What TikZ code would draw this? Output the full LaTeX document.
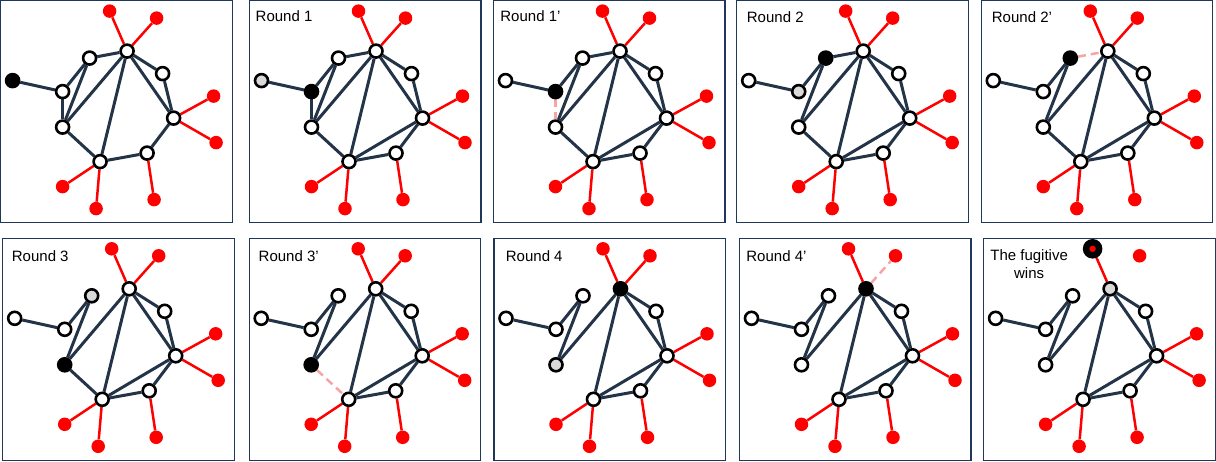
\documentclass[tikz,border=0pt]{standalone}
\usepackage{fontspec}
\setmainfont{Liberation Sans}
\pgfdeclarelayer{bg}
\pgfsetlayers{bg,main}
\definecolor{navyedge}{RGB}{36,52,72}
\definecolor{framec}{RGB}{31,56,90}
\definecolor{pinkd}{RGB}{246,164,164}
\definecolor{lgray}{RGB}{217,217,217}
\definecolor{rd}{RGB}{255,0,0}
\tikzset{
 wn/.style={circle, draw=black, line width=2.6pt, fill=white, minimum size=13pt, inner sep=0pt},
 bn/.style={wn, fill=black},
 gn/.style={wn, fill=lgray},
 rn/.style={circle, fill=rd, minimum size=13.5pt, inner sep=0pt},
 fn/.style={circle, draw=black, line width=6.5pt, fill=rd, minimum size=13pt, inner sep=0pt},
 ne/.style={draw=navyedge, line width=3pt},
 re/.style={draw=rd, line width=2.5pt},
 de/.style={draw=pinkd, line width=2.5pt, dash pattern=on 8pt off 5pt},
 frame/.style={draw=framec, line width=1.2pt},
 lbl/.style={font=\fontsize{15}{18}\selectfont, inner sep=0pt, anchor=base west},
 lblc/.style={font=\fontsize{15}{18}\selectfont, inner sep=0pt, anchor=base},
}
% nodes of one panel: #1 prefix, #2 L, #3 A, #4 B, #5 F, #6 T, #7 T1 styles
\newcommand{\gnodes}[7]{%
  \node[#2] (#1L) at (12,80) {};
  \node[#3] (#1A) at (62,91) {};
  \node[#4] (#1B) at (89,57.5) {};
  \node[#6] (#1T) at (126.5,50.5) {};
  \node[wn] (#1C) at (162,73) {};
  \node[wn] (#1R) at (173,117.5) {};
  \node[wn] (#1D) at (146.5,152.5) {};
  \node[wn] (#1E) at (99.5,161) {};
  \node[#5] (#1F) at (62,126.5) {};
  \node[#7] (#1T1) at (109,10.5) {};
  \node[rn] (#1T2) at (156,17.5) {};
  \node[rn] (#1R1) at (213,95.5) {};
  \node[rn] (#1R2) at (215.5,142) {};
  \node[rn] (#1E1) at (62,186) {};
  \node[rn] (#1E2) at (95.5,208) {};
  \node[rn] (#1D1) at (153.5,199) {};
}
\newcommand{\nedges}[2]{\begin{pgfonlayer}{bg}\foreach \a/\b in {#2} \draw[ne] (#1\a) -- (#1\b);\end{pgfonlayer}}
\newcommand{\redges}[2]{\begin{pgfonlayer}{bg}\foreach \a/\b in {#2} \draw[re] (#1\a) -- (#1\b);\end{pgfonlayer}}
\newcommand{\dedge}[3]{\begin{pgfonlayer}{bg}\draw[de] (#1#2) -- (#1#3);\end{pgfonlayer}}
\newcommand{\pframe}{\draw[frame] (0,0) rectangle (231.5,222);}
\begin{document}
\begin{tikzpicture}[x=1pt,y=-1pt]
\useasboundingbox (0,0) rectangle (1216,461);
% Panel 1
\begin{scope}[shift={(0.6,0.6)}]
\pframe
\gnodes{p1}{bn}{wn}{wn}{wn}{wn}{rn}
\nedges{p1}{L/A,A/B,B/F,F/T,T/C,T/R,C/R,T/E,E/D,D/R,A/F,B/T,F/E}
\redges{p1}{T/T1,T/T2,R/R1,R/R2,E/E1,E/E2,D/D1}
\end{scope}
% Panel 2
\begin{scope}[shift={(249.5,0.6)}]
\pframe
\node[lbl] (l2) at (6,21.2) {Round 1};
\gnodes{p2}{gn}{bn}{wn}{wn}{wn}{rn}
\nedges{p2}{L/A,A/B,B/F,F/T,T/C,T/R,C/R,T/E,E/D,D/R,A/F,B/T,F/E,E/R}
\redges{p2}{T/T1,T/T2,R/R1,R/R2,E/E1,E/E2,D/D1}
\end{scope}
% Panel 3
\begin{scope}[shift={(493.5,0.6)}]
\pframe
\node[lbl] (l3) at (6.7,21.2) {Round 1’};
\gnodes{p3}{wn}{bn}{wn}{wn}{wn}{rn}
\nedges{p3}{L/A,A/B,B/F,F/T,T/C,T/R,C/R,T/E,E/D,D/R,B/T,F/E,E/R}
\dedge{p3}{A}{F}
\redges{p3}{T/T1,T/T2,R/R1,R/R2,E/E1,E/E2,D/D1}
\end{scope}
% Panel 4
\begin{scope}[shift={(736.7,0.6)}]
\pframe
\node[lbl] (l4) at (10,21.6) {Round 2};
\gnodes{p4}{wn}{gn}{bn}{wn}{wn}{rn}
\nedges{p4}{L/A,A/B,B/F,F/T,T/C,T/R,C/R,T/E,E/D,D/R,B/T,F/E,E/R}
\redges{p4}{T/T1,T/T2,R/R1,R/R2,E/E1,E/E2,D/D1}
\end{scope}
% Panel 5
\begin{scope}[shift={(981.3,0.6)}]
\pframe
\node[lbl] (l5) at (10.4,21.6) {Round 2’};
\gnodes{p5}{wn}{wn}{bn}{wn}{wn}{rn}
\nedges{p5}{L/A,A/B,B/F,F/T,T/C,T/R,C/R,T/E,E/D,D/R,F/E,E/R}
\dedge{p5}{B}{T}
\redges{p5}{T/T1,T/T2,R/R1,R/R2,E/E1,E/E2,D/D1}
\end{scope}
% Panel 6
\begin{scope}[shift={(2.7,238.3)}]
\pframe
\node[lbl] (l6) at (9,23.2) {Round 3};
\gnodes{p6}{wn}{wn}{gn}{bn}{wn}{rn}
\nedges{p6}{L/A,A/B,B/F,F/T,T/C,T/R,C/R,T/E,E/D,D/R,F/E,E/R}
\redges{p6}{T/T1,T/T2,R/R1,R/R2,E/E1,E/E2,D/D1}
\end{scope}
% Panel 7
\begin{scope}[shift={(249.2,238.3)}]
\pframe
\node[lbl] (l7) at (9.3,22.7) {Round 3’};
\gnodes{p7}{wn}{wn}{wn}{bn}{wn}{rn}
\nedges{p7}{L/A,A/B,B/F,F/T,T/C,T/R,C/R,T/E,E/D,D/R,E/R}
\dedge{p7}{F}{E}
\redges{p7}{T/T1,T/T2,R/R1,R/R2,E/E1,E/E2,D/D1}
\end{scope}
% Panel 8
\begin{scope}[shift={(494,238.3)}]
\pframe
\node[lbl] (l8) at (11.7,22.7) {Round 4};
\gnodes{p8}{wn}{wn}{wn}{gn}{bn}{rn}
\nedges{p8}{L/A,A/B,B/F,F/T,T/C,T/R,C/R,T/E,E/D,D/R,E/R}
\redges{p8}{T/T1,T/T2,R/R1,R/R2,E/E1,E/E2,D/D1}
\end{scope}
% Panel 9
\begin{scope}[shift={(739.5,238.3)}]
\pframe
\node[lbl] (l9) at (6.7,22.7) {Round 4’};
\gnodes{p9}{wn}{wn}{wn}{wn}{bn}{rn}
\nedges{p9}{L/A,A/B,B/F,F/T,T/C,T/R,C/R,T/E,E/D,D/R,E/R}
\dedge{p9}{T}{T2}
\redges{p9}{T/T1,R/R1,R/R2,E/E1,E/E2,D/D1}
\end{scope}
% Panel 10
\begin{scope}[shift={(983.6,238.3)}]
\pframe
\node[lblc] (l10a) at (45.5,21.7) {The fugitive};
\node[lblc] (l10b) at (45.5,40) {wins};
\gnodes{p10}{wn}{wn}{wn}{wn}{gn}{fn}
\nedges{p10}{L/A,A/B,B/F,F/T,T/C,T/R,C/R,T/E,E/D,D/R,E/R}
\redges{p10}{T/T1,R/R1,R/R2,E/E1,E/E2,D/D1}
\end{scope}
\end{tikzpicture}
\end{document}
